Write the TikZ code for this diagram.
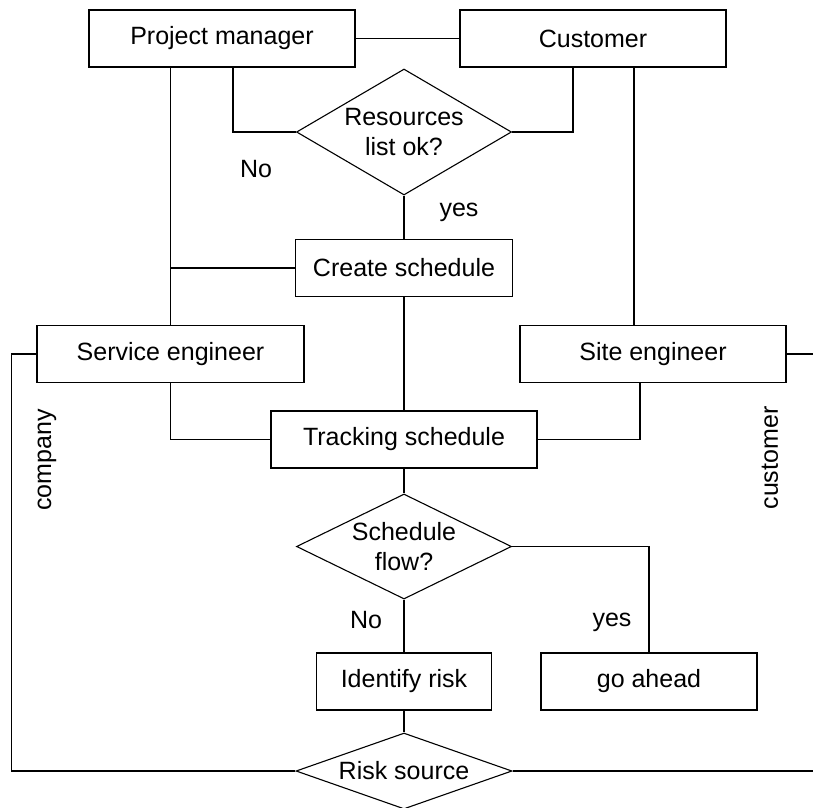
\documentclass[tikz,border=0pt]{standalone}
\usepackage{fontspec}
\setmainfont{Liberation Sans}
\usepackage{tikz}
\usetikzlibrary{calc,positioning,shapes.geometric}

\begin{document}
\begin{tikzpicture}[x=1pt, y=-1pt, line width=1.1pt,
    blk/.style={draw, rectangle, minimum height=57pt, inner sep=0pt, font=\fontsize{25}{30}\selectfont},
    dec/.style={draw, diamond, inner sep=0pt, align=center, font=\fontsize{25}{30}\selectfont},
    lbl/.style={inner sep=0pt, font=\fontsize{25}{30}\selectfont}]
  \useasboundingbox (0,0) rectangle (813,807);
  % boxes
  \foreach \n/\x/\y/\w/\t in {pm/222/38.5/266/Project manager, cust/593/38.5/266/Customer,
      create/404/268/217/Create schedule, serv/170.5/354/267/Service engineer,
      site/653/354/266/Site engineer, track/404/439.5/266/Tracking schedule,
      ident/404/681.5/175/Identify risk, ahead/649/681.5/216/go ahead}{
    \node[blk, minimum width=\w pt] (\n) at (\x,\y) {\t};
  }
  % decisions
  \node[dec, aspect=1.7, minimum width=215pt, minimum height=126pt] (res) at (404,132) {Resources\\list ok?};
  \node[dec, aspect=2.05, minimum width=215pt, minimum height=105pt] (flow) at (404,546.5) {Schedule\\flow?};
  \node[dec, aspect=2.84, minimum width=216pt, minimum height=76pt] (risk) at (404,771) {Risk source};
  % labels
  \node[lbl] (no1) at (256,169) {No};
  \node[lbl] (yes1) at (459,212) {yes};
  \node[lbl] (no2) at (366,620) {No};
  \node[lbl] (yes2) at (612,622) {yes};
  \node[lbl, rotate=90] (comp) at (47,460) {company};
  \node[lbl, rotate=90] (custl) at (770,458) {customer};
  % connectors
  \draw (pm) -- (cust);
  \draw (res.west) -| ($(pm.south)+(11,0)$);
  \draw (res.east) -| ($(cust.south)+(-20,0)$);
  \draw (res.south) -- (create.north);
  \draw (serv.north |- pm.south) -- (serv.north);
  \draw (create.west) -- (create.west -| serv.north);
  \draw ($(cust.south)+(41,0)$) coordinate (cr) -- (cr |- site.north);
  \draw (create.south) -- (track.north);
  \draw (serv.south) |- (track.west);
  \draw ($(site.south)+(-13,0)$) |- (track.east);
  \draw (serv.west) -- ++(-25,0) |- (risk.west);
  \draw (site.east) -- ++(30,0);
  \draw (risk.east) -- ++(305,0);
  \draw (track.south) -- (flow.north);
  \draw (flow.south) -- (ident.north);
  \draw (flow.east) -| (ahead.north);
  \draw (ident.south) -- (risk.north);
\end{tikzpicture}
\end{document}
